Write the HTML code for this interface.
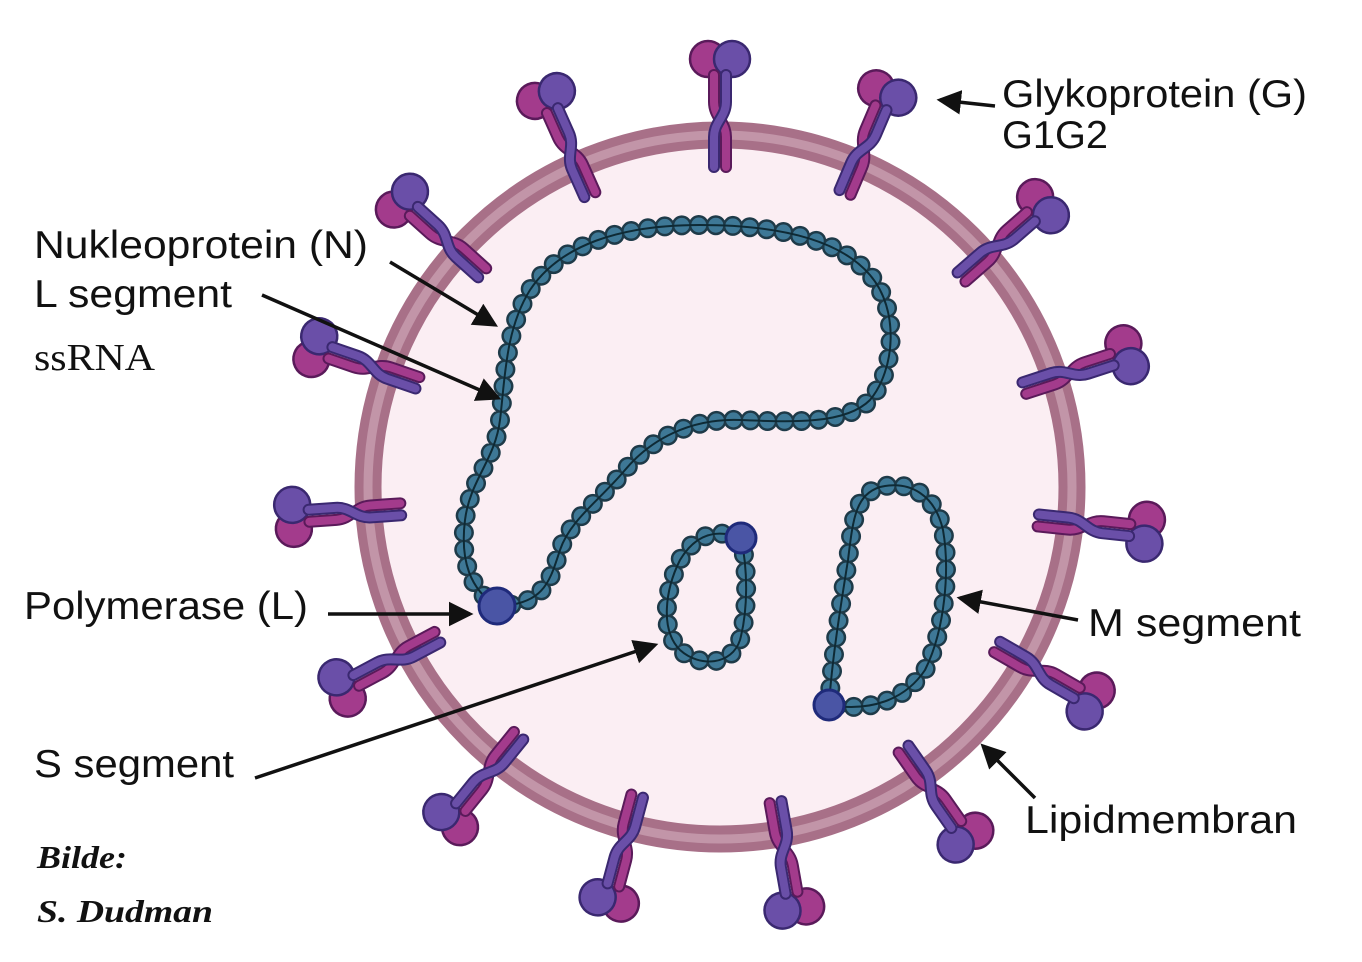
<!DOCTYPE html>
<html><head><meta charset="utf-8"><style>
html,body{margin:0;padding:0;background:#fff;}
svg{display:block}
.t{font-family:"Liberation Sans",sans-serif;font-size:39px;fill:#111}
</style></head><body>
<svg width="1362" height="962" viewBox="0 0 1362 962" xmlns="http://www.w3.org/2000/svg">
<defs>
<g id="sp">
  <circle cx="-12" cy="-428" r="18" fill="#a33b8c" stroke="#5a1a5a" stroke-width="2.5"/>
  <circle cx="12" cy="-428" r="18" fill="#6a4fa8" stroke="#3a2870" stroke-width="2.5"/>
  <path d="M-6,-412 L-6,-385 C-6,-370 6,-365 6,-350 L6,-320" fill="none" stroke="#5a1a5a" stroke-width="12" stroke-linecap="round"/>
  <path d="M-6,-412 L-6,-385 C-6,-370 6,-365 6,-350 L6,-320" fill="none" stroke="#a33b8c" stroke-width="8" stroke-linecap="round"/>
  <path d="M6,-412 L6,-385 C6,-370 -6,-365 -6,-350 L-6,-320" fill="none" stroke="#3a2870" stroke-width="12" stroke-linecap="round"/>
  <path d="M6,-412 L6,-385 C6,-370 -6,-365 -6,-350 L-6,-320" fill="none" stroke="#6a4fa8" stroke-width="8" stroke-linecap="round"/>
</g>
<marker id="ah" markerWidth="8" markerHeight="8" refX="6" refY="4" orient="auto" markerUnits="strokeWidth">
  <path d="M0,0.5 L7,4 L0,7.5 z" fill="#111"/>
</marker>
</defs>
<circle cx="720" cy="487" r="352" fill="#fbeef3" stroke="#a87088" stroke-width="27"/>
<circle cx="720" cy="487" r="352" fill="none" stroke="#c295a8" stroke-width="9"/>
<g transform="translate(720,487)">
<use href="#sp" transform="rotate(0)"/>
<use href="#sp" transform="rotate(-24)"/>
<use href="#sp" transform="rotate(23)"/>
<use href="#sp" transform="rotate(-48)"/>
<use href="#sp" transform="rotate(49)"/>
<use href="#sp" transform="rotate(-71)"/>
<use href="#sp" transform="rotate(72)"/>
<use href="#sp" transform="rotate(-94)"/>
<use href="#sp" transform="rotate(96)"/>
<use href="#sp" transform="rotate(-118)"/>
<use href="#sp" transform="rotate(120)"/>
<use href="#sp" transform="rotate(-141)"/>
<use href="#sp" transform="rotate(145)"/>
<use href="#sp" transform="rotate(-165)"/>
<use href="#sp" transform="rotate(170)"/>
</g>
<g fill="none" stroke-linecap="round" stroke-linejoin="round">
<g id="chains">
<path d="M497,606 C470,590 460,560 465,520 C470,480 495,460 500,420 C505,380 505,330 530,290 C560,245 620,225 700,225 C780,225 840,240 870,275 C900,310 895,370 870,400 C845,425 790,422 740,420 C690,418 650,440 625,470 C600,500 570,520 560,550 C550,580 545,605 497,606"/>
<path d="M741,538 C748,570 748,610 740,640 C732,665 700,668 680,650 C660,630 665,590 680,560 C695,535 715,528 741,538"/>
<path d="M829,705 C832,660 840,610 848,560 C853,520 855,495 880,487 C910,480 935,495 943,530 C950,570 945,630 925,670 C905,700 870,712 829,705"/>
</g>
</g>
<g fill="none" stroke-linecap="round">
<use href="#chains" stroke="#1e3a48" stroke-width="20" stroke-dasharray="0 17"/>
<use href="#chains" stroke="#3e7896" stroke-width="15" stroke-dasharray="0 17"/>
<use href="#chains" stroke="#0e2a35" stroke-width="2"/>
</g>
<g fill="#4a55a5" stroke="#1f2a7a" stroke-width="3">
<circle cx="497" cy="606" r="18"/>
<circle cx="741" cy="538" r="15"/>
<circle cx="829" cy="705" r="15"/>
</g>
<g stroke="#111" stroke-width="3.5" fill="none" marker-end="url(#ah)">
<line x1="995" y1="106" x2="940" y2="100"/>
<line x1="390" y1="262" x2="495" y2="325"/>
<line x1="262" y1="295" x2="498" y2="398"/>
<line x1="328" y1="614" x2="470" y2="614"/>
<line x1="255" y1="778" x2="655" y2="645"/>
<line x1="1078" y1="620" x2="960" y2="598"/>
<line x1="1035" y1="798" x2="983" y2="746"/>
</g>
<text class="t" x="1002" y="107" textLength="305" lengthAdjust="spacingAndGlyphs">Glykoprotein (G)</text>
<text class="t" x="1002" y="148" textLength="106" lengthAdjust="spacingAndGlyphs">G1G2</text>
<text class="t" x="34" y="258" textLength="334" lengthAdjust="spacingAndGlyphs">Nukleoprotein (N)</text>
<text class="t" x="34" y="307" textLength="198" lengthAdjust="spacingAndGlyphs">L segment</text>
<text x="34" y="370" textLength="121" lengthAdjust="spacingAndGlyphs" style="font-family:'Liberation Serif',serif;font-size:38px;fill:#111">ssRNA</text>
<text class="t" x="24" y="619" textLength="284" lengthAdjust="spacingAndGlyphs">Polymerase (L)</text>
<text class="t" x="1088" y="636" textLength="213" lengthAdjust="spacingAndGlyphs">M segment</text>
<text class="t" x="34" y="777" textLength="200" lengthAdjust="spacingAndGlyphs">S segment</text>
<text class="t" x="1025" y="833" textLength="272" lengthAdjust="spacingAndGlyphs">Lipidmembran</text>
<text x="37" y="868" textLength="90" lengthAdjust="spacingAndGlyphs" style="font-family:'Liberation Serif',serif;font-style:italic;font-weight:bold;font-size:32px;fill:#111">Bilde:</text>
<text x="37" y="922" textLength="176" lengthAdjust="spacingAndGlyphs" style="font-family:'Liberation Serif',serif;font-style:italic;font-weight:bold;font-size:32px;fill:#111">S. Dudman</text>
</svg>
</body></html>
